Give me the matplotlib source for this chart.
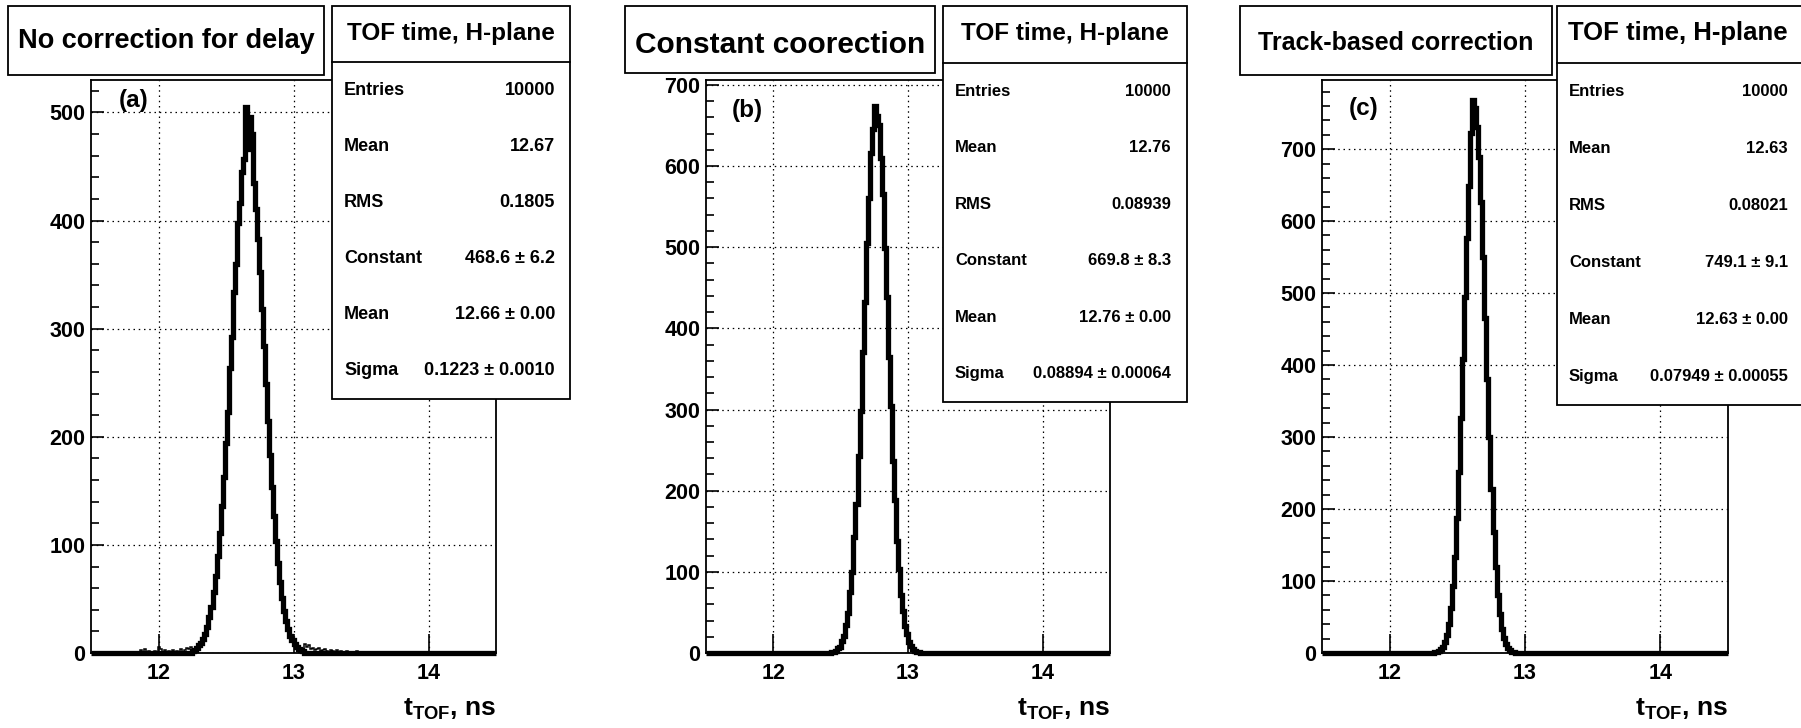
import numpy as np
import matplotlib
matplotlib.use("Agg")
import matplotlib.pyplot as plt
from matplotlib.patches import Rectangle
from matplotlib.lines import Line2D
from matplotlib.ticker import MultipleLocator

plt.rcParams["font.family"] = ["Liberation Sans", "DejaVu Sans"]
plt.rcParams["font.weight"] = "bold"
plt.rcParams["mathtext.fontset"] = "custom"
plt.rcParams["mathtext.bf"] = "Liberation Sans:bold"
plt.rcParams["mathtext.rm"] = "Liberation Sans:bold"

# binning of the TOF histograms (ns)
t_min, t_max, n_bins = 11.5, 14.5, 200

# (a) no correction: main peak (bins 50..104) + sparse tails
core_a_start = 50
core_a = [2, 3, 5, 7, 9, 13, 18, 24, 33, 43, 56, 71, 90, 111, 136, 163, 194, 223,
          264, 292, 334, 360, 398, 416, 445, 457, 505,
          466, 496, 480, 435, 411, 383, 352, 318, 284, 249, 215, 183, 154, 127, 104,
          83, 66, 51, 39, 30, 22, 16, 12, 8, 6, 4, 3, 2]
tail_a_bins = [16, 24, 26, 28, 31, 33, 34, 36, 38, 40, 42, 44, 46, 47, 48, 49,
               105, 106, 107, 108, 109, 110, 111, 112, 113, 114, 115, 116, 118, 119,
               121, 123, 126, 128, 131, 137, 140]
tail_a_counts = [1, 3, 4, 2, 2, 6, 4, 3, 2, 3, 2, 4, 3, 5, 4, 6,
                 8, 6, 7, 4, 5, 3, 4, 5, 2, 3, 4, 2, 3, 2, 3, 2, 2, 1, 2, 1, 1]

# (b) constant correction (bins 62..105)
core_b_start = 62
core_b = [1, 1, 3, 6, 8, 15, 21, 35, 49, 75, 100, 143, 184, 243, 298, 371, 433, 505,
          560, 616, 646, 674,
          662, 651, 610, 566, 499, 439, 365, 304, 237, 189, 138, 104, 71, 52, 33, 23,
          13, 9, 5, 3, 1, 1]

# (c) track-based correction (bins 55..94)
core_c_start = 55
core_c = [1, 1, 3, 5, 9, 15, 25, 40, 62, 93, 134, 187, 251, 326, 409, 494, 577, 649, 722,
          768, 757, 731, 689, 627, 550, 466, 381, 300, 228, 168, 119, 81, 54, 34, 21, 12,
          7, 4, 2, 1]

titles = ["No correction for delay", "Constant coorection", "Track-based correction"]
tags = ["(a)", "(b)", "(c)"]
stat_names = ["Entries", "Mean", "RMS", "Constant", "Mean", "Sigma"]
stat_values = [
    ["10000", "12.67", "0.1805", "468.6 \u00b1 6.2", "12.66 \u00b1 0.00", "0.1223 \u00b1 0.0010"],
    ["10000", "12.76", "0.08939", "669.8 \u00b1 8.3", "12.76 \u00b1 0.00", "0.08894 \u00b1 0.00064"],
    ["10000", "12.63", "0.08021", "749.1 \u00b1 9.1", "12.63 \u00b1 0.00", "0.07949 \u00b1 0.00055"],
]
stats_header = "TOF time, H-plane"
y_max = [530, 706, 796]

edges = np.linspace(t_min, t_max, n_bins + 1)


def place(start, vals):
    h = np.zeros(n_bins)
    h[start:start + len(vals)] = vals
    return h


thick = [place(core_a_start, core_a), place(core_b_start, core_b), place(core_c_start, core_c)]
tail_a = np.zeros(n_bins)
tail_a[tail_a_bins] = tail_a_counts
thin = [thick[0] + tail_a, None, None]

# layout in pixels (x0, y0, x1, y1), origin top-left
W, H = 1801, 728
axes_px = [(91, 80, 496, 653), (706, 80, 1110, 653), (1322, 80, 1728, 653)]
title_px = [(8, 6, 324, 75), (625, 6, 935, 73), (1240, 6, 1552, 75)]
title_fs = [19.5, 21.5, 18]
title_base = [48, 53, 50]
stats_px = [(332, 6, 570, 399), (943, 6, 1187, 402), (1557, 6, 1820, 405)]
stats_div = [62, 63, 63]
stats_fs = [13, 12, 12]
header_fs = [17.5, 17.5, 18.5]
header_cx = [451, 1065, 1678]
value_right = [555, 1171, 1788]
tag_px = [(119, 100), (732, 111), (1349, 108)]

fig = plt.figure(figsize=(W / 100, H / 100), dpi=100)


def fx(px):
    return px / W


def fy(py):
    return 1 - py / H


def box(x0, y0, x1, y1):
    fig.add_artist(Rectangle((fx(x0), fy(y1)), (x1 - x0) / W, (y1 - y0) / H,
                             transform=fig.transFigure, fc="white", ec="black",
                             lw=1.3, zorder=5))


for i in range(3):
    x0, y0, x1, y1 = axes_px[i]
    ax = fig.add_axes([fx(x0), fy(y1), (x1 - x0) / W, (y1 - y0) / H])
    ax.stairs(thick[i], edges, color="black", lw=3.8, baseline=None, clip_on=False, zorder=3)
    if thin[i] is not None:
        ax.stairs(thin[i], edges, color="black", lw=1.1, baseline=None, zorder=4)
    ax.set_xlim(t_min, t_max)
    ax.set_ylim(0, y_max[i])
    ax.set_xticks([12, 13, 14])
    ax.yaxis.set_major_locator(MultipleLocator(100))
    ax.yaxis.set_minor_locator(MultipleLocator(20))
    ax.tick_params(axis="both", which="both", direction="in", top=False, right=False,
                   labelsize=15.5, width=1.2)
    ax.tick_params(axis="x", which="major", length=13.5, pad=7)
    ax.tick_params(axis="y", which="major", length=9, pad=4)
    ax.tick_params(axis="y", which="minor", length=5.5)
    ax.grid(True, which="major", color="black", lw=0.9, linestyle=(0, (1.2, 3)))
    for s in ax.spines.values():
        s.set_linewidth(1.3)
    ax.text(fx(tag_px[i][0]), fy(tag_px[i][1]), tags[i], transform=fig.transFigure,
            fontsize=17.5, fontweight="bold", ha="left", va="center")
    fig.text(fx(x1), fy(715), r"$\mathbf{t}_{\mathbf{TOF}}$, ns", ha="right",
             va="baseline", fontsize=19, fontweight="bold")

    # title box
    tx0, ty0, tx1, ty1 = title_px[i]
    box(tx0, ty0, tx1, ty1)
    fig.text(fx((tx0 + tx1) / 2), fy(title_base[i]), titles[i], ha="center",
             va="baseline", fontsize=title_fs[i], fontweight="bold", zorder=6)

    # stats box
    sx0, sy0, sx1, sy1 = stats_px[i]
    box(sx0, sy0, sx1, sy1)
    fig.add_artist(Line2D([fx(sx0), fx(sx1)], [fy(stats_div[i])] * 2,
                          transform=fig.transFigure, color="black", lw=1.3, zorder=6))
    fig.text(fx(header_cx[i]), fy(40), stats_header, ha="center", va="baseline",
             fontsize=header_fs[i], fontweight="bold", zorder=6)
    rowh = (sy1 - stats_div[i]) / 6
    for r in range(6):
        yc = stats_div[i] + (r + 0.5) * rowh
        fig.text(fx(sx0 + 12), fy(yc), stat_names[r], ha="left", va="center",
                 fontsize=stats_fs[i], fontweight="bold", zorder=6)
        fig.text(fx(value_right[i]), fy(yc), stat_values[i][r], ha="right", va="center",
                 fontsize=stats_fs[i], fontweight="bold", zorder=6)

fig.savefig("out.png", dpi=100)
